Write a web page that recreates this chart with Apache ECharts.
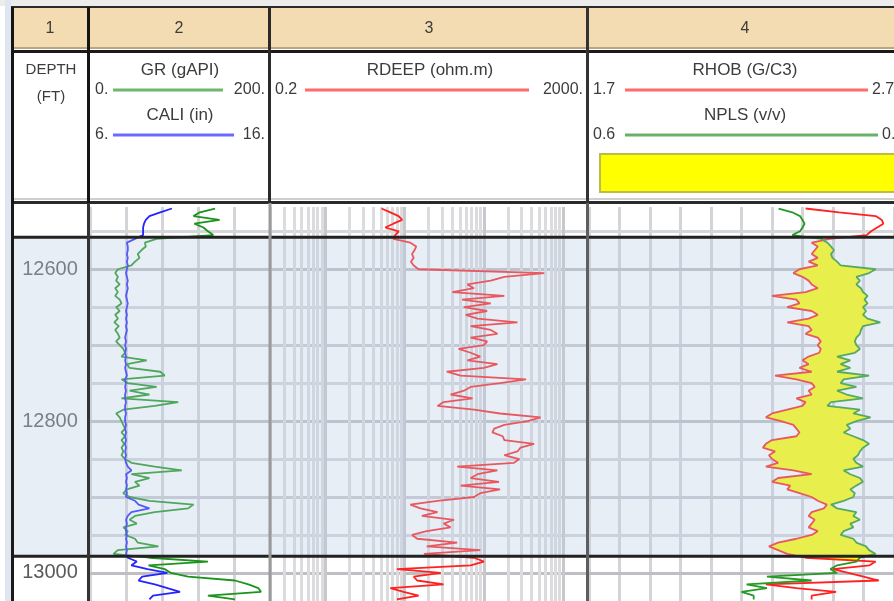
<!DOCTYPE html>
<html>
<head>
<meta charset="utf-8">
<script src="https://cdn.jsdelivr.net/npm/echarts@6/dist/echarts.min.js"></script>
<style>
  html, body { margin: 0; padding: 0; background: #fff; }
  #main { width: 894px; height: 601px; }
</style>
</head>
<body>
<div id="main"></div>
<script>
var depth = [
  12520,12525,12530,12535,12540,12545,12550,12555,12560,12565,
  12570,12575,12580,12585,12590,12595,12600,12605,12610,12615,
  12620,12625,12630,12635,12640,12645,12650,12655,12660,12665,
  12670,12675,12680,12685,12690,12695,12700,12705,12710,12715,
  12720,12725,12730,12735,12740,12745,12750,12755,12760,12765,
  12770,12775,12780,12785,12790,12795,12800,12805,12810,12815,
  12820,12825,12830,12835,12840,12845,12850,12855,12860,12865,
  12870,12875,12880,12885,12890,12895,12900,12905,12910,12915,
  12920,12925,12930,12935,12940,12945,12950,12955,12960,12965,
  12970,12975,12980,12985,12990,12995,13000,13005,13010,13015,
  13020,13025,13030,13035
];

var gr = [
  139,122,115,144,116,126,131,137,74,61,
  62,57,53,55,50,46,31,28,31,29,
  33,28,31,28,33,35,29,33,28,31,
  27,32,28,31,33,29,33,37,39,35,
  63,41,44,78,83,35,42,74,44,66,
  35,98,72,37,29,33,35,37,39,35,
  39,35,38,35,37,35,39,46,72,102,
  46,66,50,55,41,37,44,66,115,109,
  72,50,44,52,37,42,39,50,53,76,
  31,26,66,131,65,83,90,109,161,176,
  187,190,131,161
];

var cali = [
  10.55,9.9,9.3,9.1,9.0,8.95,8.95,8.95,8.5,8.05,
  8.1,8.1,8.05,8.1,8.05,8.1,8.05,8.0,8.05,8.1,
  8.05,8.1,8.05,8.0,8.05,8.1,8.05,8.0,8.05,8.0,
  8.05,8.0,8.05,8.0,7.95,8.0,7.95,8.0,7.95,8.0,
  7.95,8.0,7.95,8.0,8.05,7.95,8.0,7.95,8.0,7.95,
  7.95,8.0,7.95,7.95,8.0,7.95,7.95,8.0,7.95,8.0,
  7.95,8.0,7.95,8.0,7.95,8.0,7.95,8.0,8.1,8.3,
  8.0,8.05,8.0,8.05,8.0,8.05,8.0,8.5,8.7,9.3,
  8.3,8.1,8.0,8.05,8.0,8.0,8.05,8.0,8.05,8.0,
  8.05,8.0,8.1,8.6,8.3,9.2,10.3,8.9,8.7,9.6,
  10.3,11.0,9.5,9.3
];

var rdeep = [
  5.1,6.6,8.4,9.3,7.2,5.7,8.4,7.6,7.2,11.8,
  14,13.3,12.4,13,12,13,15,577,181,122,
  62,75,40,181,53,122,56,110,59,83,
  265,68,122,148,68,110,100,48,68,90,
  62,148,100,34,51,340,160,68,56,38,
  72,31,26,75,160,520,357,181,135,128,
  173,181,430,290,265,181,280,240,46,148,
  83,68,155,51,160,90,75,26,11.8,15.8,
  26,16.5,42,31,38,19,12.4,14.4,46,19,
  90,17.5,75,100,68,8,28.5,13,14.4,31,
  6.6,9.7,15,8
];

var rhob = [
  2.41,2.52,2.64,2.66,2.665,2.645,2.625,2.61,2.49,2.43,
  2.45,2.44,2.43,2.45,2.42,2.45,2.39,2.37,2.40,2.42,
  2.43,2.45,2.41,2.30,2.38,2.39,2.35,2.43,2.45,2.42,
  2.35,2.42,2.43,2.41,2.45,2.46,2.45,2.46,2.455,2.42,
  2.40,2.42,2.39,2.43,2.31,2.38,2.43,2.44,2.42,2.43,
  2.38,2.41,2.40,2.35,2.30,2.28,2.33,2.37,2.38,2.39,
  2.38,2.30,2.28,2.27,2.31,2.29,2.30,2.32,2.28,2.37,
  2.43,2.32,2.30,2.36,2.35,2.39,2.43,2.45,2.48,2.47,
  2.43,2.42,2.44,2.43,2.42,2.45,2.43,2.38,2.32,2.29,
  2.32,2.35,2.41,2.64,2.62,2.50,2.55,2.60,2.65,2.28,
  2.38,2.51,2.43,2.43
];

var npls = [
  0.227,0.20,0.185,0.18,0.176,0.18,0.185,0.20,0.143,0.131,
  0.124,0.118,0.124,0.121,0.112,0.105,0.036,0.049,0.074,0.067,
  0.074,0.065,0.061,0.052,0.058,0.052,0.061,0.055,0.061,0.052,
  0.027,0.061,0.065,0.067,0.074,0.077,0.074,0.067,0.077,0.112,
  0.086,0.105,0.086,0.112,0.049,0.099,0.105,0.074,0.112,0.093,
  0.061,0.124,0.131,0.067,0.080,0.046,0.074,0.093,0.086,0.099,
  0.080,0.061,0.049,0.061,0.067,0.071,0.080,0.074,0.061,0.099,
  0.086,0.067,0.061,0.074,0.086,0.077,0.080,0.099,0.124,0.112,
  0.074,0.080,0.067,0.086,0.080,0.099,0.105,0.080,0.074,0.055,
  0.049,0.036,0.067,0.074,0.112,0.125,0.112,0.250,0.162,0.29,
  0.250,0.30,0.276,0.276
];

var depthLabels = [12600, 12800, 13000];
var depthGrid = [12550,12600,12650,12700,12750,12800,12850,12900,12950,13000];
var rdeepGrid = [0.3,0.4,0.5,0.6,0.7,0.8,0.9,1,2,3,4,5,6,7,8,9,10,20,30,40,50,60,70,80,90,
                 100,200,300,400,500,600,700,800,900,1000];
var zoneTop = 12558, zoneBase = 12978;
var depthMin = 12518, depthMax = 13037;

/* ---- chart ---- */
var FONT = "'Liberation Sans', Arial, sans-serif";
var myChart = echarts.init(document.getElementById('main'));

function pairs(vals) {
  return vals.map(function (v, i) { return [v, depth[i]]; });
}

function depthAxis(i) {
  return {
    type: 'value', gridIndex: i, inverse: true, min: depthMin, max: depthMax,
    axisLine: { show: false }, axisTick: { show: false },
    splitLine: { show: false }, axisLabel: { show: false }
  };
}

function hiddenX(i, extra) {
  var ax = {
    type: 'value', gridIndex: i,
    axisLine: { show: false }, axisTick: { show: false },
    axisLabel: { show: false }, splitLine: { show: false }
  };
  for (var k in extra) ax[k] = extra[k];
  return ax;
}

// horizontal depth grid, drawn as marker lines so they sit at 50 ft steps
function depthLines() {
  return depthGrid.map(function (d) {
    var c = d % 200 === 0 ? '#bdbfc4' : (d % 100 === 0 ? '#c8cacf' : '#d4d6da');
    return { yAxis: d, lineStyle: { color: c, width: 3, type: 'solid' } };
  });
}

function gridMarks(extra) {
  return {
    silent: true, symbol: ['none', 'none'], label: { show: false }, z: 1,
    animation: false,
    data: depthLines().concat(extra || [])
  };
}

var logLines = rdeepGrid.map(function (v) {
  var dec = (v === 1 || v === 10 || v === 100 || v === 1000);
  return { xAxis: v, lineStyle: { color: dec ? '#c8c8cc' : '#dcdcde', width: 3, type: 'solid' } };
});

var yAx0 = depthAxis(0);
yAx0.axisLabel = {
  show: true, customValues: depthLabels, inside: true, margin: 38, align: 'center',
  fontSize: 20, color: '#5a5a5a', fontFamily: FONT,
  formatter: function (v) { return String(v); }
};

var option = {
  animation: false,
  grid: [
    { left: 12, top: 207, width: 77, height: 394 },
    { left: 90, top: 207, width: 180, height: 394 },
    { left: 270, top: 207, width: 317, height: 394 },
    { left: 589, top: 207, width: 317, height: 394 }
  ],
  xAxis: [
    hiddenX(0, { min: 0, max: 1 }),
    hiddenX(1, { min: 0, max: 200, interval: 40,
      splitLine: { show: true, lineStyle: { color: '#d4d4d8', width: 3 } } }),
    hiddenX(1, { min: 6, max: 16 }),
    hiddenX(2, { type: 'log', logBase: 10, min: 0.2, max: 2000 }),
    hiddenX(3, { min: 1.7, max: 2.7, interval: 0.1,
      splitLine: { show: true, lineStyle: { color: '#d4d4d8', width: 3 } } }),
    hiddenX(3, { min: 0, max: 0.6, inverse: true })
  ],
  yAxis: [yAx0, depthAxis(1), depthAxis(2), depthAxis(3)],
  series: [
    {
      name: 'GR', type: 'line', xAxisIndex: 1, yAxisIndex: 1, data: pairs(gr),
      symbol: 'none', z: 6, lineStyle: { color: '#1c941c', width: 1.8 },
      markLine: gridMarks()
    },
    {
      name: 'CALI', type: 'line', xAxisIndex: 2, yAxisIndex: 1, data: pairs(cali),
      symbol: 'none', z: 6, lineStyle: { color: '#2424ff', width: 1.8 }
    },
    {
      name: 'RDEEP', type: 'line', xAxisIndex: 3, yAxisIndex: 2, data: pairs(rdeep),
      symbol: 'none', z: 6, lineStyle: { color: '#ff2020', width: 1.8 },
      markLine: gridMarks(logLines)
    },
    {
      name: 'RHOB', type: 'line', xAxisIndex: 4, yAxisIndex: 3, data: pairs(rhob),
      symbol: 'none', z: 6, lineStyle: { color: '#ff2020', width: 1.8 },
      markLine: gridMarks()
    },
    {
      name: 'NPLS', type: 'line', xAxisIndex: 5, yAxisIndex: 3, data: pairs(npls),
      symbol: 'none', z: 6, lineStyle: { color: '#259a25', width: 1.8 }
    }
  ]
};

myChart.setOption(option);

/* ---- crossover fill, zone overlay and header ---- */
function px(axisIdx, v) { return myChart.convertToPixel({ xAxisIndex: axisIdx }, v); }
function py(axisIdx, v) { return myChart.convertToPixel({ yAxisIndex: axisIdx }, v); }

var els = [];

// yellow fill where RHOB plots left of NPLS
var pts = depth.map(function (d, i) {
  return { y: py(3, d), xr: px(4, rhob[i]), xn: px(5, npls[i]) };
});
var polys = [], cur = null;
for (var i = 0; i < pts.length; i++) {
  var p = pts[i], dd = p.xn - p.xr;
  if (i > 0) {
    var q = pts[i - 1], dq = q.xn - q.xr;
    if ((dq > 0) !== (dd > 0)) {
      var t = dq / (dq - dd);
      var cx = q.xr + t * (p.xr - q.xr), cy = q.y + t * (p.y - q.y);
      if (cur) { cur.left.push([cx, cy]); polys.push(cur); cur = null; }
      else { cur = { left: [[cx, cy]], right: [] }; }
    }
  }
  if (dd > 0) {
    if (!cur) cur = { left: [], right: [] };
    cur.left.push([p.xr, p.y]);
    cur.right.push([p.xn, p.y]);
  }
}
if (cur) polys.push(cur);
polys.forEach(function (pl) {
  els.push({
    type: 'polygon', z: 4, silent: true,
    shape: { points: pl.left.concat(pl.right.slice().reverse()) },
    style: { fill: '#ffff00' }
  });
});

function rect(x, y, w, h, fill, stroke, lw, z) {
  els.push({ type: 'rect', z: z || 12, silent: true, shape: { x: x, y: y, width: w, height: h },
    style: { fill: fill || 'none', stroke: stroke || null, lineWidth: lw || 0 } });
}
function line(x1, y1, x2, y2, color, w, z) {
  els.push({ type: 'line', z: z || 13, silent: true, shape: { x1: x1, y1: y1, x2: x2, y2: y2 },
    style: { stroke: color, lineWidth: w } });
}
function text(s, x, y, align, size, color) {
  els.push({ type: 'text', z: 14, silent: true, x: x, y: y,
    style: { text: s, fill: color || '#3c3c3c', font: size + 'px ' + FONT,
      align: align, verticalAlign: 'middle' } });
}

// zone shading and frame
var zt = py(3, zoneTop), zb = py(3, zoneBase);
rect(12, zt, 900, zb - zt, 'rgba(185,203,228,0.33)', null, 0, 10);
rect(12.5, zt, 900, zb - zt, 'none', '#222', 3, 11);

// header background
rect(0, 0, 894, 6, '#ececec');
rect(0, 6, 894, 197, '#ffffff');
rect(12, 8, 894, 40, '#f3dcb1');
rect(5, 0, 6, 601, '#dfe6ef');
line(11, 7, 894, 7, '#2a2a2a', 2);
line(12, 48, 894, 48, '#b8a584', 2);
line(11, 51.5, 894, 51.5, '#1a1a1a', 3);
line(12, 199, 894, 199, '#cfcfcf', 2);
line(11, 202.5, 894, 202.5, '#2a2a2a', 3);

// track separators
line(12.5, 7, 12.5, 203, '#151515', 3);
line(88.5, 7, 88.5, 203, '#151515', 3);
line(269.5, 7, 269.5, 203, '#2a2a2a', 3);
line(587.5, 7, 587.5, 203, '#333', 3);
line(12.5, 203, 12.5, 601, '#1a1a1a', 3);
line(88.5, 203, 88.5, 601, '#333', 3);
line(270, 203, 270, 601, '#9a9a9a', 3);
line(587.5, 203, 587.5, 601, '#5e5e5e', 3);

// header texts
text('1', 50, 29, 'center', 16);
text('2', 179, 29, 'center', 16);
text('3', 429, 29, 'center', 16);
text('4', 745, 29, 'center', 16);

text('DEPTH', 51, 70, 'center', 15);
text('(FT)', 51, 97, 'center', 15);

text('GR (gAPI)', 180, 70, 'center', 17);
text('0.', 95, 90, 'left', 16);
line(113, 90, 223, 90, '#6cb86c', 3);
text('200.', 265, 90, 'right', 16);
text('CALI (in)', 180, 115, 'center', 17);
text('6.', 95, 135, 'left', 16);
line(113, 135, 234, 135, '#6a6aff', 3);
text('16.', 265, 135, 'right', 16);

text('RDEEP (ohm.m)', 430, 70, 'center', 17);
text('0.2', 275, 90, 'left', 16);
line(305, 90, 529, 90, '#ff6a6a', 3);
text('2000.', 583, 90, 'right', 16);

text('RHOB (G/C3)', 745, 70, 'center', 17);
text('1.7', 593, 90, 'left', 16);
line(625, 90, 868, 90, '#ff6a6a', 3);
text('2.7', 872, 90, 'left', 16);
text('NPLS (v/v)', 745, 115, 'center', 17);
text('0.6', 593, 135, 'left', 16);
line(625, 135, 878, 135, '#6ab06a', 3);
text('0.', 882, 135, 'left', 16);

rect(600, 154, 300, 38, '#ffff00', '#bcbc4a', 2);

myChart.setOption({ graphic: els });
</script>
</body>
</html>
